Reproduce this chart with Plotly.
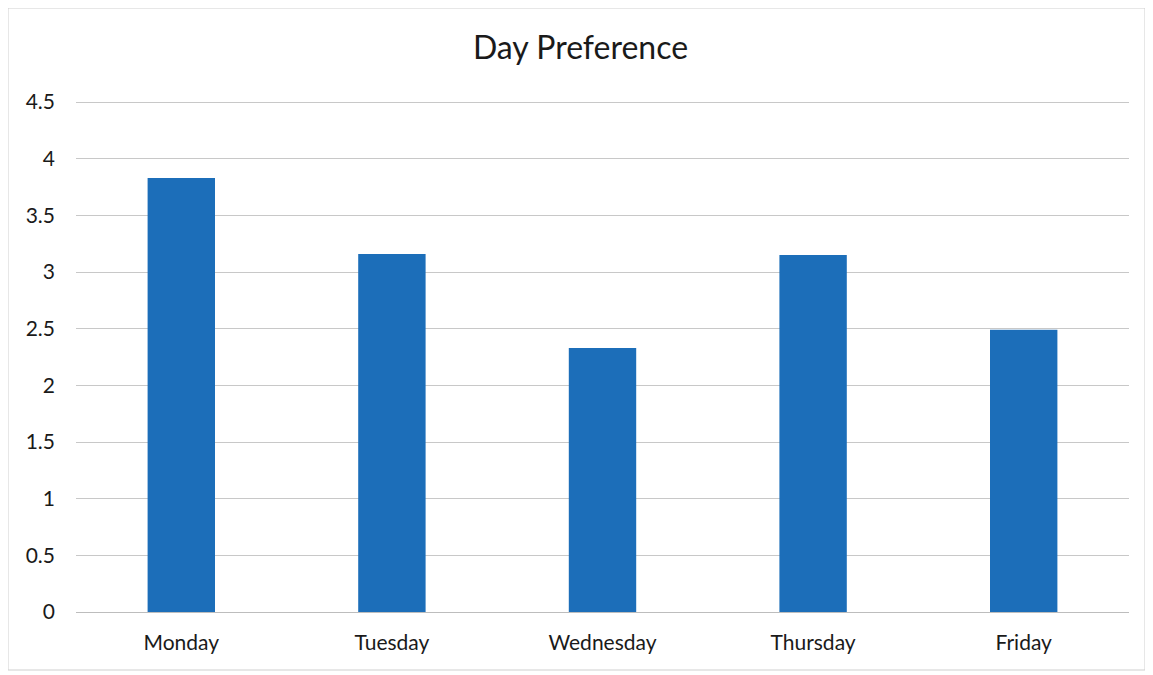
import plotly.graph_objects as go

days = ["Monday", "Tuesday", "Wednesday", "Thursday", "Friday"]
values = [3.83, 3.16, 2.33, 3.15, 2.49]
y_ticks = [0, 0.5, 1, 1.5, 2, 2.5, 3, 3.5, 4, 4.5]
y_tick_labels = ["0", "0.5", "1", "1.5", "2", "2.5", "3", "3.5", "4", "4.5"]

# page body has an 8px margin; size the figure to fit inside the window
OFF = 8
W, H = 1153 - OFF, 675 - OFF
ml, mt = 76 - OFF, 101 - OFF
mr = W - (1129 - OFF)
mb = H - (612 - OFF)
pw, ph = W - ml - mr, H - mt - mb

fig = go.Figure(go.Bar(x=days, y=values, marker_color="#1C6EB9", width=0.32,
                       marker_line_width=0))

fig.update_layout(
    width=W, height=H,
    margin=dict(l=ml, r=mr, t=mt, b=mb),
    paper_bgcolor="white", plot_bgcolor="white",
    font=dict(family="Lato, 'Open Sans', sans-serif", color="#1a1a1a", size=21),
    title=dict(text="Day Preference", x=0.5, xanchor="center", y=1 - (48 - OFF) / H, yanchor="middle",
               font=dict(size=32, color="#1a1a1a")),
    showlegend=False,
)
fig.update_yaxes(range=[0, 4.509], tickvals=y_ticks, ticktext=y_tick_labels,
                 showgrid=True, gridcolor="#c8c8c8", gridwidth=1,
                 zeroline=False, showline=False, ticks="", ticklabelstandoff=20,
                 tickfont=dict(size=21))
fig.update_xaxes(showgrid=False, showline=True, linecolor="#bdbdbd", linewidth=1,
                 ticks="", ticklabelstandoff=12, tickfont=dict(size=21))

fig.add_shape(type="rect", xref="paper", yref="paper",
              x0=(0 - ml) / pw, x1=(1137 - ml) / pw,
              y0=(H - mb - 662) / ph, y1=(H - mb - 0) / ph,
              line=dict(color="#cfcfcf", width=1), fillcolor="rgba(0,0,0,0)")

fig.write_html("out.html")
